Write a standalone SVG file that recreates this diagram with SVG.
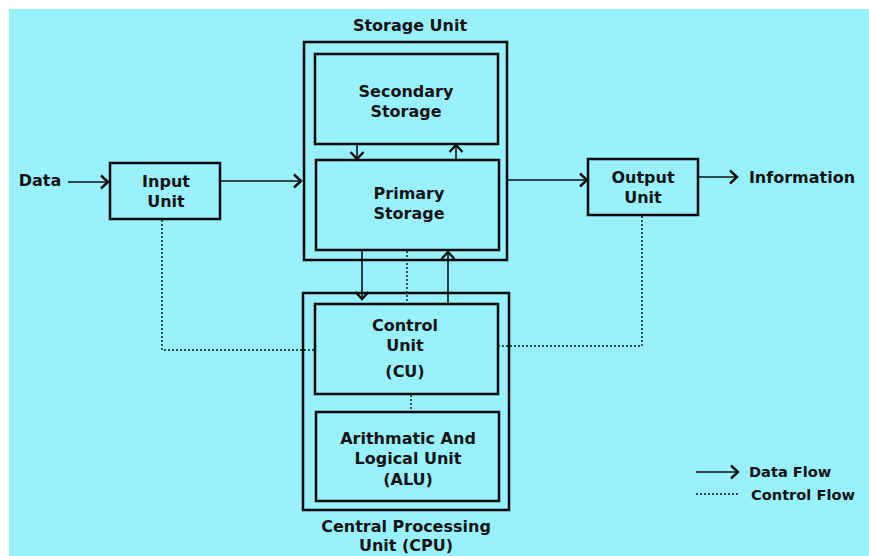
<svg xmlns="http://www.w3.org/2000/svg" width="869" height="556" viewBox="0 0 869 556">
<defs>
<style>
.box{fill:none;stroke:#0a0a0a;stroke-width:2.5}
.t{font-family:"DejaVu Sans",Verdana,sans-serif;font-weight:bold;font-size:16px;fill:#141414;text-anchor:middle}
.ts{font-family:"DejaVu Sans",Verdana,sans-serif;font-weight:bold;font-size:14.6px;fill:#141414}
.data{fill:none;stroke:#111;stroke-width:1.6;marker-end:url(#arr)}
.ctrl{fill:none;stroke:#111;stroke-width:1.4;stroke-dasharray:2 2}
</style>
<marker id="arr" markerUnits="userSpaceOnUse" markerWidth="14" markerHeight="16" refX="9" refY="8" orient="auto">
<path d="M2,1.5 L9,8 L2,14.5" fill="none" stroke="#111" stroke-width="2.4"/>
</marker>
</defs>
<rect x="0" y="0" width="869" height="556" fill="#ffffff"/>
<rect x="9" y="9" width="860" height="547" fill="#99f1fd"/>

<g id="storage-unit">
<rect class="box" x="304" y="42" width="203" height="218"/>
<text class="t" x="410" y="31">Storage Unit</text>
</g>
<g id="secondary-storage">
<rect class="box" x="315" y="54" width="183" height="90"/>
<text class="t" x="406" y="97">Secondary</text>
<text class="t" x="406" y="117">Storage</text>
</g>
<g id="primary-storage">
<rect class="box" x="316" y="160" width="183" height="90"/>
<text class="t" x="409" y="199">Primary</text>
<text class="t" x="409" y="219">Storage</text>
</g>
<g id="input-unit">
<rect class="box" x="110" y="163" width="110" height="56"/>
<text class="t" x="166" y="187">Input</text>
<text class="t" x="166" y="207">Unit</text>
</g>
<g id="output-unit">
<rect class="box" x="588" y="159" width="110" height="56"/>
<text class="t" x="643" y="183">Output</text>
<text class="t" x="643" y="203">Unit</text>
</g>
<g id="cpu">
<rect class="box" x="303" y="293" width="206" height="217"/>
<text class="t" x="406" y="532">Central Processing</text>
<text class="t" x="406" y="551">Unit (CPU)</text>
</g>
<g id="control-unit">
<rect class="box" x="315" y="304" width="183" height="90"/>
<text class="t" x="405" y="331">Control</text>
<text class="t" x="405" y="351">Unit</text>
<text class="t" x="405" y="377">(CU)</text>
</g>
<g id="alu">
<rect class="box" x="316" y="412" width="183" height="89"/>
<text class="t" x="408" y="444">Arithmatic And</text>
<text class="t" x="408" y="464">Logical Unit</text>
<text class="t" x="408" y="485">(ALU)</text>
</g>
<g id="data-label"><text class="t" x="40" y="186">Data</text></g>
<g id="information-label"><text class="t" x="802" y="183">Information</text></g>

<g id="connectors">
<line class="data" x1="68" y1="182" x2="108" y2="182"/>
<line class="data" x1="221" y1="181" x2="301" y2="181"/>
<line class="data" x1="508" y1="180" x2="587" y2="180"/>
<line class="data" x1="699" y1="177" x2="737" y2="177"/>
<line class="data" x1="357" y1="145" x2="357" y2="159"/>
<line class="data" x1="456" y1="159" x2="456" y2="145"/>
<line class="data" x1="362" y1="251" x2="362" y2="299"/>
<line class="data" x1="448" y1="303" x2="448" y2="252"/>
<line class="ctrl" x1="407" y1="251" x2="407" y2="303"/>
<line class="ctrl" x1="411" y1="395" x2="411" y2="411"/>
<polyline class="ctrl" points="162,220 162,350 314,350"/>
<polyline class="ctrl" points="642,216 642,346 499,346"/>
</g>

<g id="legend">
<line class="data" x1="696" y1="472" x2="738" y2="472"/>
<text class="ts" x="749" y="477">Data Flow</text>
<line class="ctrl" x1="696" y1="494" x2="738" y2="494"/>
<text class="ts" x="751" y="500">Control Flow</text>
</g>
</svg>
